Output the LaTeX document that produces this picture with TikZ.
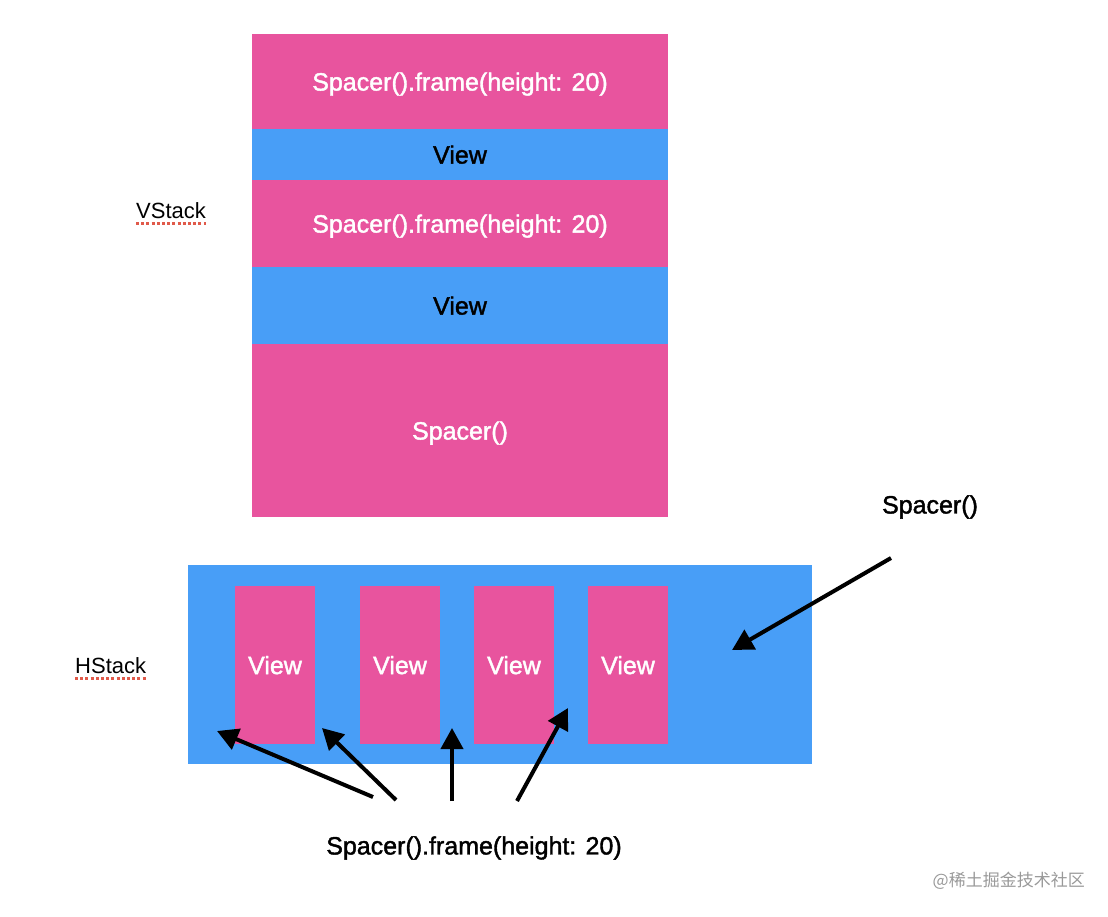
\documentclass[tikz,border=0pt]{standalone}
\usepackage{fontspec}
\setmainfont{Liberation Sans}
\newfontfamily\medfont[FakeBold=1.6]{Liberation Sans}
\newfontfamily\cjk{Noto Sans CJK SC}
\usetikzlibrary{arrows.meta}
\definecolor{pinkc}{HTML}{E8549E}
\definecolor{bluec}{HTML}{489EF7}
\definecolor{squig}{HTML}{E05A4A}
\tikzset{
  blk/.style={inner sep=0pt, outer sep=0pt, anchor=north west},
  pinkbox/.style={blk, fill=pinkc, text=white, font=\medfont\fontsize{25}{29}\selectfont, text depth=0pt},
  bluebox/.style={blk, fill=bluec, text=black, font=\medfont\fontsize{25}{29}\selectfont, text depth=0pt},
  lbl/.style={font=\fontsize{22}{26}\selectfont, inner sep=0pt},
  note/.style={font=\medfont\fontsize{25}{29}\selectfont, inner sep=0pt},
  arr/.style={line width=4pt, -{Triangle[length=21pt,width=22pt]}},
  squiggle/.style={squig, line width=2.8pt, dash pattern=on 3pt off 2.2pt}
}
\begin{document}
\begin{tikzpicture}[x=1pt,y=-1pt]
\useasboundingbox (0,0) rectangle (1108,916);
% VStack column
\node[pinkbox, minimum width=416pt, minimum height=95pt] (s1) at (252,34) {Spacer().frame(height: 20)};
\node[bluebox, minimum width=416pt, minimum height=51pt] (v1) at (252,129) {View};
\node[pinkbox, minimum width=416pt, minimum height=87pt] (s2) at (252,180) {Spacer().frame(height: 20)};
\node[bluebox, minimum width=416pt, minimum height=77pt] (v2) at (252,267) {View};
\node[pinkbox, minimum width=416pt, minimum height=173pt] (s3) at (252,344) {Spacer()};
\node[lbl, anchor=west] (vlabel) at (136,211) {VStack};
\draw[squiggle] ([yshift=-5pt]vlabel.base west) -- ([yshift=-5pt]vlabel.base east);
% HStack
\node[blk, fill=bluec, minimum width=624pt, minimum height=199pt] (hs) at (188,565) {};
\node[pinkbox, minimum width=80pt, minimum height=158pt] (h1) at (235,586) {View};
\node[pinkbox, minimum width=80pt, minimum height=158pt] (h2) at (360,586) {View};
\node[pinkbox, minimum width=80pt, minimum height=158pt] (h3) at (474,586) {View};
\node[pinkbox, minimum width=80pt, minimum height=158pt] (h4) at (588,586) {View};
\node[lbl, anchor=west] (hlabel) at (75,666) {HStack};
\draw[squiggle] ([yshift=-5pt]hlabel.base west) -- ([yshift=-5pt]hlabel.base east);
% notes
\node[note] (sp) at (930,507) {Spacer()};
\node[note] (spf) at (474,848) {Spacer().frame(height: 20)};
% arrows
\coordinate (a0s) at (891,558); \coordinate (a0e) at (732,650);
\coordinate (a1s) at (373,797); \coordinate (a1e) at (217,731);
\coordinate (a2s) at (396,800); \coordinate (a2e) at (322,728);
\coordinate (a3s) at (452,801); \coordinate (a3e) at (452,728);
\coordinate (a4s) at (517,801); \coordinate (a4e) at (568,708);
\draw[arr] (a0s) -- (a0e);
\draw[arr] (a1s) -- (a1e);
\draw[arr] (a2s) -- (a2e);
\draw[arr] (a3s) -- (a3e);
\draw[arr] (a4s) -- (a4e);
% watermark
\node[font=\cjk\fontsize{17}{20}\selectfont, text=black!40, inner sep=0pt, anchor=east] (wm) at (1085,881) {@稀土掘金技术社区};
\end{tikzpicture}
\end{document}
